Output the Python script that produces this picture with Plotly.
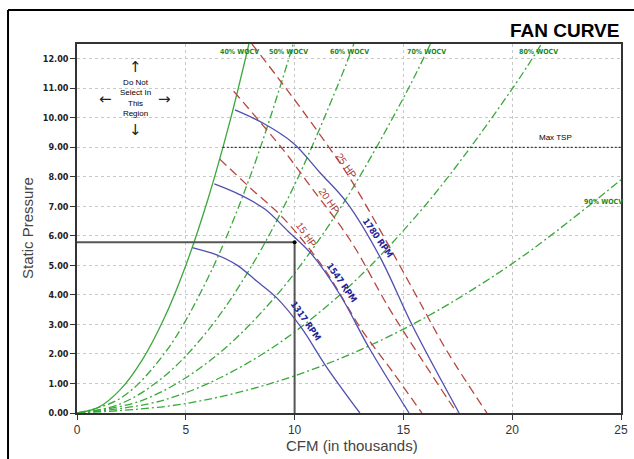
import plotly.graph_objects as go

# ---------------- data ----------------
# system (% wide-open) curves, CFM in thousands vs static pressure
sys40_x = [0, 1, 2, 3, 4, 5, 6, 7, 7.9]
sys40_y = [0, 0.2, 0.8, 1.8, 3.2, 5.0, 7.2, 9.8, 12.5]
sys50_x = [0, 2, 4, 6, 8, 9.94]
sys50_y = [0, 0.5, 2.0, 4.55, 8.1, 12.5]
sys60_x = [0, 2, 4, 6, 8, 10, 12, 12.72]
sys60_y = [0, 0.31, 1.24, 2.78, 4.95, 7.73, 11.13, 12.5]
sys70_x = [0, 3, 6, 9, 12, 15, 16.24]
sys70_y = [0, 0.43, 1.71, 3.84, 6.83, 10.67, 12.5]
sys80_x = [0, 4, 8, 12, 16, 20, 21.34]
sys80_y = [0, 0.44, 1.76, 3.95, 7.03, 10.98, 12.5]
sys90_x = [0, 5, 10, 15, 20, 25]
sys90_y = [0, 0.32, 1.26, 2.84, 5.06, 7.9]
sys_labels = ["40% WOCV", "50% WOCV", "60% WOCV", "70% WOCV", "80% WOCV", "90% WOCV"]
sys_label_x = [7.49, 9.70, 12.5, 16.08, 21.19, 24.2]
sys_label_y = [12.24, 12.24, 12.24, 12.24, 12.24, 7.15]

# fan speed curves
rpm_hi_x = [7.26, 8.6, 9.93, 11.17, 12.41, 13.92, 15.44, 17.56]
rpm_hi_y = [10.27, 9.8, 9.15, 8.14, 7.12, 5.29, 2.92, 0]
rpm_mid_x = [6.31, 7.47, 8.63, 9.71, 10.78, 12.1, 13.42, 15.26]
rpm_mid_y = [7.76, 7.40, 6.91, 6.15, 5.38, 3.99, 2.21, 0]
rpm_lo_x = [5.3, 6.36, 7.35, 8.27, 9.18, 10.3, 11.43, 13.0]
rpm_lo_y = [5.6, 5.37, 5.01, 4.46, 3.90, 2.90, 1.60, 0]
rpm_labels = ["1780 RPM", "1547 RPM", "1317 RPM"]
rpm_label_x = [13.83, 12.18, 10.52]
rpm_label_y = [5.93, 4.41, 3.12]

# horsepower curves
hp25_x = [8.04, 9.5, 11.0, 12.5, 14.0, 15.5, 17.0, 18.84]
hp25_y = [12.5, 11.1, 9.6, 8.0, 6.1, 4.1, 2.1, 0]
hp20_x = [7.2, 9.47, 10.85, 12.55, 14.38, 15.9, 17.46]
hp20_y = [10.9, 8.92, 7.56, 5.86, 3.5, 1.75, 0]
hp15_x = [6.56, 8.0, 9.47, 11.3, 13.1, 14.5, 15.85]
hp15_y = [8.6, 7.6, 6.61, 4.95, 2.8, 1.4, 0]
hp_labels = ["25 HP", "20 HP", "15 HP"]
hp_label_x = [12.36, 11.58, 10.52]
hp_label_y = [8.37, 7.19, 6.03]

max_tsp = 9.0
max_tsp_x = [6.7, 25]
op_cfm = 10.0
op_sp = 5.78

x_ticks = [0, 5, 10, 15, 20, 25]
y_ticks = [0, 1, 2, 3, 4, 5, 6, 7, 8, 9, 10, 11, 12]

GREEN = "#3aa83a"
BLUE = "#4f4fb0"
RED = "#b8473f"
NARROW = "Liberation Sans Narrow, DejaVu Sans Condensed, Arial Narrow, sans-serif"
ARIAL = "Arial, Liberation Sans, sans-serif"

fig = go.Figure()

DD = "8px,3px,2px,3px"
sys_sets = [(sys40_x, sys40_y, "solid"), (sys50_x, sys50_y, DD), (sys60_x, sys60_y, DD),
            (sys70_x, sys70_y, DD), (sys80_x, sys80_y, DD), (sys90_x, sys90_y, DD)]
for xs, ys, dash in sys_sets:
    fig.add_trace(go.Scatter(x=xs, y=ys, mode="lines", line=dict(color=GREEN, width=1.3, dash=dash, shape="spline"),
                             hoverinfo="skip", showlegend=False))

fig.add_trace(go.Scatter(x=max_tsp_x, y=[max_tsp, max_tsp], mode="lines",
                         line=dict(color="#111111", width=1, dash="2px,2px"), hoverinfo="skip", showlegend=False))

for xs, ys in [(hp25_x, hp25_y), (hp20_x, hp20_y), (hp15_x, hp15_y)]:
    fig.add_trace(go.Scatter(x=xs, y=ys, mode="lines", line=dict(color=RED, width=1.3, dash="9px,5px", shape="spline"),
                             hoverinfo="skip", showlegend=False))

for xs, ys in [(rpm_hi_x, rpm_hi_y), (rpm_mid_x, rpm_mid_y), (rpm_lo_x, rpm_lo_y)]:
    fig.add_trace(go.Scatter(x=xs, y=ys, mode="lines", line=dict(color=BLUE, width=1.3, shape="spline"),
                             hoverinfo="skip", showlegend=False))

fig.add_trace(go.Scatter(x=[0, op_cfm, op_cfm], y=[op_sp, op_sp, 0], mode="lines",
                         line=dict(color="#555555", width=2), hoverinfo="skip", showlegend=False))
fig.add_trace(go.Scatter(x=[op_cfm], y=[op_sp], mode="markers", marker=dict(color="#000", size=4),
                         hoverinfo="skip", showlegend=False))

C = dict(xanchor="center", yanchor="middle", showarrow=False)
ann = []
for t, x, y in zip(sys_labels, sys_label_x, sys_label_y):
    ann.append(dict(x=x, y=y, text=t, font=dict(family=NARROW, size=7, color="#1a8a1a", weight="bold"), **C))
for t, x, y in zip(hp_labels, hp_label_x, hp_label_y):
    ann.append(dict(x=x, y=y, text=t, textangle=55, font=dict(family=ARIAL, size=10, color="#a83a34"), **C))
for t, x, y in zip(rpm_labels, rpm_label_x, rpm_label_y):
    ann.append(dict(x=x, y=y, text=t, textangle=55, font=dict(family=NARROW, size=9, color="#23239a", weight="bold"), **C))

ann.append(dict(x=21.97, y=9.32, text="Max TSP", font=dict(family=ARIAL, size=8, color="#000"), **C))
ann.append(dict(x=2.67, y=10.68, text="Do Not<br>Select In<br>This<br>Region",
                font=dict(family=ARIAL, size=8, color="#000"), **C))
ann.append(dict(x=2.67, y=11.72, text="↑", font=dict(family="DejaVu Sans", size=15, color="#222"), **C))
ann.append(dict(x=2.67, y=9.6, text="↓", font=dict(family="DejaVu Sans", size=15, color="#222"), **C))
ann.append(dict(x=1.29, y=10.64, text="←", font=dict(family="DejaVu Sans", size=15, color="#222"), **C))
ann.append(dict(x=4.04, y=10.64, text="→", font=dict(family="DejaVu Sans", size=15, color="#222"), **C))

ann.append(dict(xref="paper", yref="paper", x=1.0, y=1.036, xanchor="right", yanchor="middle",
                text="<b>FAN CURVE</b>", showarrow=False,
                font=dict(family=ARIAL, size=19, color="#000")))
ann.append(dict(xref="paper", yref="paper", x=-0.0901, y=0.5014, text="Static Pressure", textangle=-90,
                font=dict(family=ARIAL, size=15, color="#444"), **C))
ann.append(dict(xref="paper", yref="paper", x=0.5055, y=-0.0894, text="CFM (in thousands)",
                font=dict(family=ARIAL, size=15, color="#444"), **C))

shapes = [
    dict(type="line", xref="paper", yref="paper", x0=-0.1268, x1=1.03, y0=1.0921, y1=1.0921, line=dict(color="#000", width=2)),
    dict(type="line", xref="paper", yref="paper", x0=-0.1268, x1=-0.1268, y0=1.0921, y1=-0.13, line=dict(color="#000", width=2)),
]

fig.update_layout(
    width=634, height=459,
    margin=dict(l=77, r=13, t=44, b=46, autoexpand=False),
    paper_bgcolor="white", plot_bgcolor="white",
    annotations=ann, shapes=shapes,
    xaxis=dict(range=[0, 25], tickvals=x_ticks, ticktext=[str(v) for v in x_ticks], automargin=False,
               showline=True, linecolor="#333", linewidth=1.5, mirror=True,
               ticks="outside", ticklen=5, tickcolor="#333",
               showgrid=True, gridcolor="#c8c8c8", griddash="dot", gridwidth=1, zeroline=False,
               tickfont=dict(family=ARIAL, size=12, color="#333")),
    yaxis=dict(range=[0, 12.5], tickvals=y_ticks, ticktext=["%.2f" % v for v in y_ticks], automargin=False,
               showline=True, linecolor="#333", linewidth=1.5, mirror=True,
               ticks="outside", ticklen=5, tickcolor="#333",
               showgrid=True, gridcolor="#c8c8c8", griddash="dot", gridwidth=1, zeroline=False,
               tickfont=dict(family=NARROW, size=9, color="#222", weight="bold")),
)

# remove the default page margin so the 634x459 figure fills the window exactly
fig.write_html("out.html", config={"displayModeBar": False},
               post_script="document.body.style.margin='0';document.body.style.overflow='hidden';")
